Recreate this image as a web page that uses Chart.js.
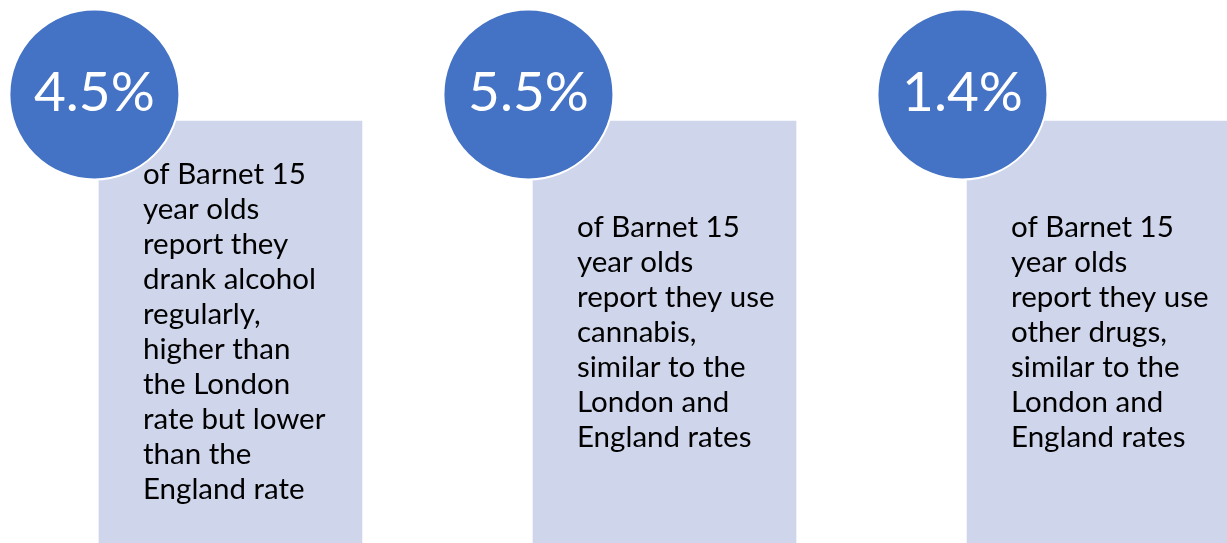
<!DOCTYPE html>
<html>
<head>
<meta charset="utf-8">
<script src="https://cdn.jsdelivr.net/npm/chart.js@4/dist/chart.umd.min.js"></script>
<style>
  html, body { margin: 0; padding: 0; background: #ffffff; overflow: hidden; }
  #wrap { position: relative; width: 1227px; height: 543px; }
</style>
</head>
<body>
<div id="wrap"><canvas id="c"></canvas></div>
<script>
// ---- data ----
const categories = ['Alcohol', 'Cannabis', 'Other drugs'];
const values = [4.5, 5.5, 1.4];
const valueLabels = ['4.5%', '5.5%', '1.4%'];
const descriptions = [
  ['of Barnet 15', 'year olds', 'report they', 'drank alcohol', 'regularly,', 'higher than', 'the London', 'rate but lower', 'than the', 'England rate'],
  ['of Barnet 15', 'year olds', 'report they use', 'cannabis,', 'similar to the', 'London and', 'England rates'],
  ['of Barnet 15', 'year olds', 'report they use', 'other drugs,', 'similar to the', 'London and', 'England rates']
];

// ---- layout (not data) ----
const PANEL_TOP = 422;      // panel height in y-scale units (pixels from bottom)
const CIRCLE_Y = 448.5;     // circle centre in y-scale units
const CIRCLE_DX = -0.3135;  // circle offset from panel centre, in x-scale units
const FONT = 'Lato, "Open Sans", "DejaVu Sans", sans-serif';

const panelData = categories.map((c, i) => ({ x: i, y: [0, PANEL_TOP] }));
const circleData = categories.map((c, i) => ({ x: i + CIRCLE_DX, y: CIRCLE_Y, r: 85 }));

const textPlugin = {
  id: 'infoText',
  afterDatasetsDraw(chart) {
    const ctx = chart.ctx;
    const circles = chart.getDatasetMeta(0).data;
    const panels = chart.getDatasetMeta(1).data;
    ctx.save();
    // percentages
    ctx.fillStyle = '#ffffff';
    ctx.font = '400 55px ' + FONT;
    ctx.textAlign = 'center';
    ctx.textBaseline = 'middle';
    circles.forEach((el, i) => {
      ctx.fillText(valueLabels[i], el.x, el.y - 1);
    });
    // descriptions
    ctx.fillStyle = '#000000';
    ctx.font = '400 29.5px ' + FONT;
    ctx.textAlign = 'left';
    ctx.textBaseline = 'middle';
    const lh = 35;
    panels.forEach((el, i) => {
      const left = el.x - el.width / 2 + 44;
      const mid = (el.y + el.base) / 2;
      const lines = descriptions[i];
      lines.forEach((t, j) => {
        ctx.fillText(t, left, mid + (j - (lines.length - 1) / 2) * lh);
      });
    });
    ctx.restore();
  }
};

new Chart(document.getElementById('c'), {
  type: 'bar',
  data: {
    labels: categories,
    datasets: [
      {
        type: 'bubble',
        label: 'value',
        data: circleData,
        backgroundColor: '#4472C4',
        borderColor: '#ffffff',
        borderWidth: 2,
        clip: false,
        order: 0
      },
      {
        type: 'bar',
        label: 'panel',
        data: panelData,
        backgroundColor: '#CFD5EA',
        borderWidth: 0,
        barThickness: 263,
        clip: false,
        order: 1
      }
    ]
  },
  options: {
    responsive: true,
    maintainAspectRatio: false,
    animation: false,
    events: [],
    layout: { padding: 0, autoPadding: false },
    plugins: { legend: { display: false }, tooltip: { enabled: false } },
    scales: {
      x: { type: 'linear', display: false, offset: false, min: -0.531, max: 2.296, grid: { display: false } },
      y: { type: 'linear', display: false, min: 0, max: 543, grid: { display: false } }
    }
  },
  plugins: [textPlugin]
});
</script>
</body>
</html>
